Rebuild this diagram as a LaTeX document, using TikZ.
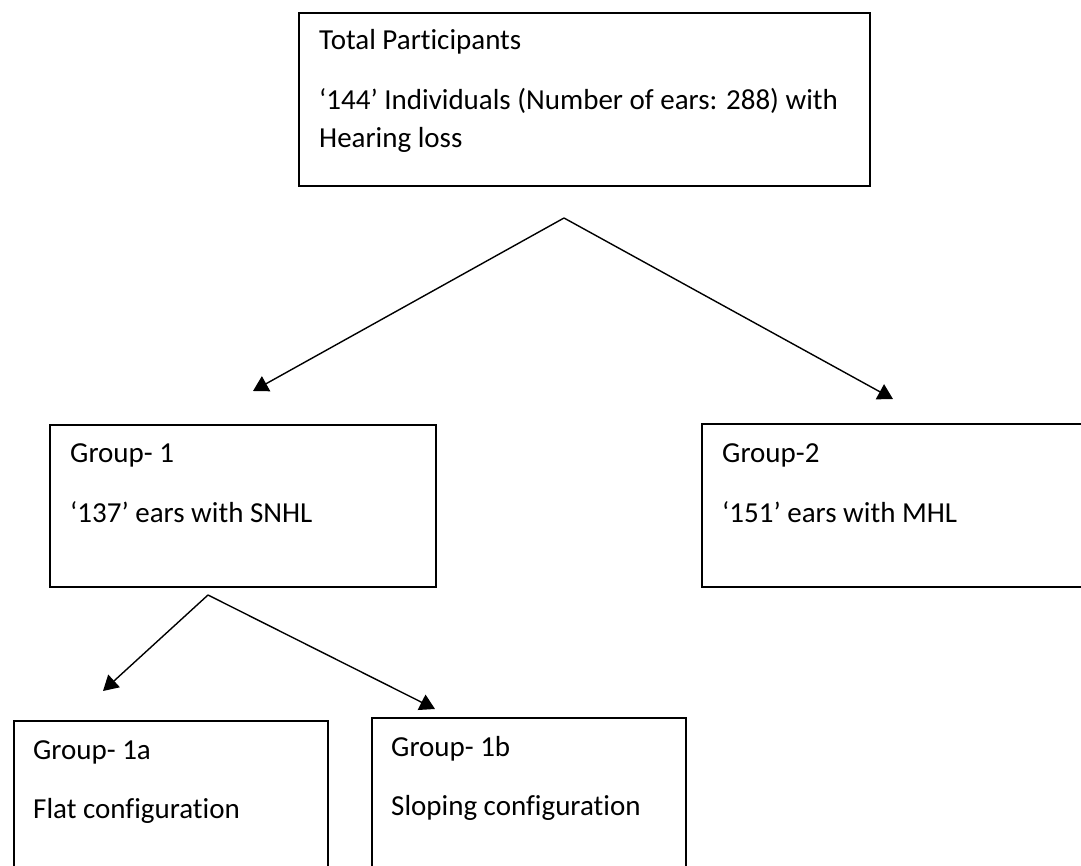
\documentclass[tikz,border=0pt]{standalone}
\usepackage{fontspec}
\setmainfont{Carlito}[Ligatures=NoCommon]
\usetikzlibrary{arrows.meta}
\begin{document}
\begin{tikzpicture}[x=1pt,y=-1pt,
  box/.style={draw=black, line width=1.6pt, rectangle, inner sep=0pt, anchor=north west},
  txt/.style={anchor=base west, inner sep=0pt, font=\fontsize{29}{38}\selectfont},
  conn/.style={line width=1.4pt, -{Triangle[length=15pt,width=17pt]}}]
\useasboundingbox (0,0) rectangle (1081,866);
% boxes
\node[box, minimum width=571pt, minimum height=173pt] (top) at (298,12) {};
\node[box, minimum width=386pt, minimum height=162pt] (g1) at (49,424) {};
\node[box, minimum width=420pt, minimum height=163pt] (g2) at (701,423) {};
\node[box, minimum width=314pt, minimum height=220pt] (g1a) at (13,720) {};
\node[box, minimum width=314pt, minimum height=220pt] (g1b) at (371,717) {};
% texts
\node[txt] (t0a) at (319,50) {Total Participants};
\node[txt] (t0b) at (319,110) {‘144’ Individuals (Number of ears: 288) with};
\node[txt] (t0c) at (319,148) {Hearing loss};
\node[txt] (t1a) at (70,462) {Group- 1};
\node[txt] (t1b) at (70,522) {‘137’ ears with SNHL};
\node[txt] (t2a) at (722,462) {Group-2};
\node[txt] (t2b) at (722,522) {‘151’ ears with MHL};
\node[txt] (t3a) at (33,759) {Group- 1a};
\node[txt] (t3b) at (33,818) {Flat configuration};
\node[txt] (t4a) at (391,756) {Group- 1b};
\node[txt] (t4b) at (391,815) {Sloping configuration};
% connector ends
\coordinate (apex1) at (564,218);
\coordinate (tipL) at (253,391);
\coordinate (tipR) at (893,399);
\coordinate (apex2) at (208,595);
\coordinate (tipLa) at (103,691);
\coordinate (tipLb) at (435,709);
\draw[conn] (apex1) -- (tipL);
\draw[conn] (apex1) -- (tipR);
\draw[conn] (apex2) -- (tipLa);
\draw[conn] (apex2) -- (tipLb);
\end{tikzpicture}
\end{document}
